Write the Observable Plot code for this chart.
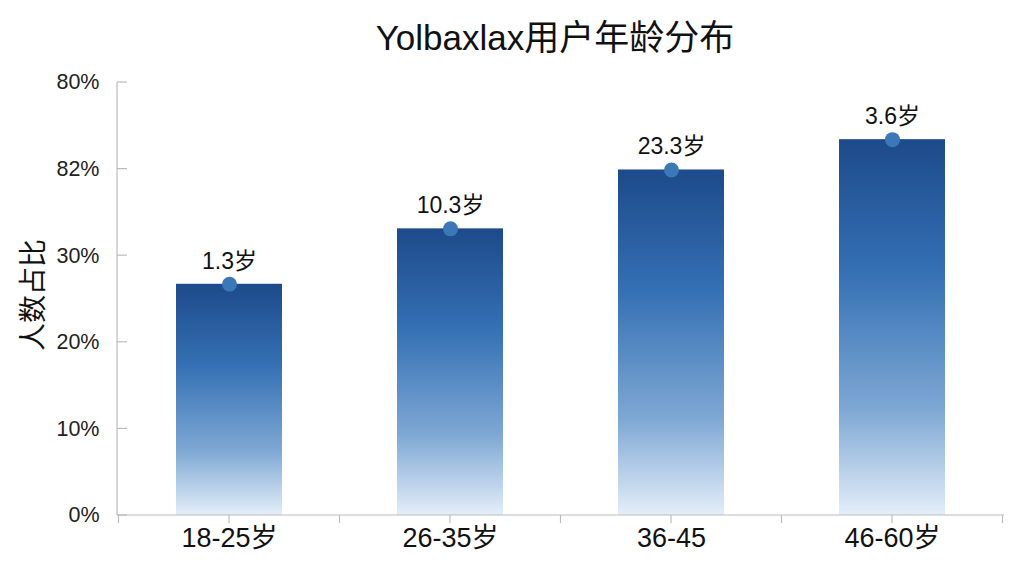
<!DOCTYPE html>
<html>
<head>
<meta charset="utf-8">
<script src="https://cdn.jsdelivr.net/npm/d3@7"></script>
<script src="https://cdn.jsdelivr.net/npm/@observablehq/plot@0.6"></script>
<style>
  html, body { margin: 0; padding: 0; background: #fff; }
  body { width: 1024px; height: 576px; overflow: hidden; font-family: "Liberation Sans", "Noto Sans CJK SC", sans-serif; }
  #title { height: 64px; box-sizing: border-box; padding-top: 17px; padding-left: 86px; text-align: center;
           font-size: 35px; line-height: 42px; color: #111; }
  #chart svg { display: block; }
</style>
</head>
<body>
<div id="title">Yolbaxlax用户年龄分布</div>
<div id="chart"></div>
<script>
const ageGroups = ["18-25岁", "26-35岁", "36-45", "46-60岁"];
const shares = [26.7, 33.1, 39.9, 43.4];
const valueLabels = ["1.3岁", "10.3岁", "23.3岁", "3.6岁"];
const yTicks = [0, 10, 20, 30, 40, 50];
const yTickLabels = ["0%", "10%", "20%", "30%", "82%", "80%"];
const yAxisTitle = "人数占比";

const data = ageGroups.map((g, i) => ({ group: g, share: shares[i], label: valueLabels[i] }));

const FONT = '"Liberation Sans", "Noto Sans CJK SC", sans-serif';

function gradientDefs() {
  const defs = d3.create("svg:defs");
  const lg = defs.append("linearGradient").attr("id", "barGrad")
    .attr("x1", 0).attr("y1", 0).attr("x2", 0).attr("y2", 1);
  [[0, "#1d4a8a"], [0.35, "#3470b4"], [0.72, "#7ea8d4"], [1, "#e4eef9"]].forEach(([o, c]) =>
    lg.append("stop").attr("offset", o).attr("stop-color", c));
  return defs.node();
}

function axisLines(index, scales, values, dims) {
  const x = scales.x, y = scales.y;
  const sx = (scales.scales && scales.scales.x) || {};
  const bw = typeof x.bandwidth === "function" ? x.bandwidth() : sx.bandwidth;
  const step = x(ageGroups[1]) - x(ageGroups[0]);
  const x0 = dims.marginLeft, x1 = dims.width - dims.marginRight;
  const yb = y(0), yt = y(yTicks[yTicks.length - 1]);
  const g = d3.create("svg:g").attr("stroke", "#bcbcbc").attr("stroke-width", 1.2).attr("fill", "none");
  g.append("line").attr("x1", x0).attr("x2", x0).attr("y1", yt).attr("y2", yb);
  yTicks.forEach(t => g.append("line").attr("x1", x0).attr("x2", x0 + 10).attr("y1", y(t)).attr("y2", y(t)));
  g.append("line").attr("x1", x0).attr("x2", x1).attr("y1", yb).attr("y2", yb);
  const xs = [];
  ageGroups.forEach(a => {
    const c = x(a) + bw / 2;
    xs.push(c - step / 2, c);
  });
  xs.push(x(ageGroups[ageGroups.length - 1]) + bw / 2 + step / 2);
  xs.forEach(v => g.append("line").attr("x1", v).attr("x2", v).attr("y1", yb).attr("y2", yb + 8));
  return g.node();
}

const chart = Plot.plot({
  width: 1024,
  height: 512,
  marginTop: 18,
  marginBottom: 61,
  marginLeft: 117,
  marginRight: 20,
  x: { domain: ageGroups, paddingInner: 0.52, paddingOuter: 0.26 },
  y: { domain: [0, 50] },
  style: { fontFamily: FONT, background: "transparent", color: "#111" },
  marks: [
    gradientDefs,
    Plot.barY(data, { x: "group", y: "share", fill: "url(#barGrad)" }),
    axisLines,
    Plot.dot(data, { x: "group", y: "share", r: 7.5, fill: "#3b78b8", stroke: "none" }),
    Plot.text(data, { x: "group", y: "share", text: "label", dy: -23, fontSize: 23, fill: "#111" }),
    Plot.axisY(yTicks, { tickSize: 0, tickPadding: 18, fontSize: 21.5, label: null,
      tickFormat: d => yTickLabels[yTicks.indexOf(d)], fill: "#222" }),
    Plot.axisX({ tickSize: 0, tickPadding: 12, fontSize: 27, label: null, fill: "#111" }),
    Plot.text([yAxisTitle], { frameAnchor: "left", dx: -83, rotate: -90, fontSize: 28,
      textAnchor: "middle", lineAnchor: "middle", fill: "#111", dy: -4 })
  ]
});
document.getElementById("chart").appendChild(chart);
</script>
</body>
</html>
